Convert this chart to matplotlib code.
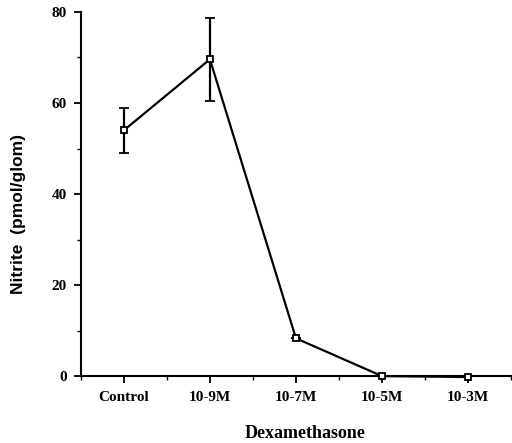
import matplotlib
matplotlib.use("Agg")
import matplotlib.pyplot as plt
from matplotlib.ticker import MultipleLocator

# data
categories = ["Control", "10-9M", "10-7M", "10-5M", "10-3M"]
nitrite = [54.0, 69.6, 8.3, 0.0, -0.2]
sem = [5.0, 9.1, 0.0, 0.0, 0.0]

plt.rcParams['font.family'] = ['Liberation Serif', 'DejaVu Serif']
plt.rcParams['font.weight'] = 'bold'

fig = plt.figure(figsize=(5.12, 4.43), dpi=100)
ax = fig.add_axes([0.158, 0.151, 0.84, 0.822])

x = list(range(len(categories)))
eb = ax.errorbar(x, nitrite, yerr=sem, color='black', lw=1.6, elinewidth=1.6,
                 capsize=3.5, capthick=1.6, marker='s', markersize=5,
                 markerfacecolor='white', markeredgecolor='black', markeredgewidth=1.3,
                 zorder=5)
eb[0].set_clip_on(False)

ax.set_xlim(-0.5, 4.5)
ax.set_ylim(0, 80)
ax.set_xticks(x)
ax.set_xticklabels(categories, fontsize=11, fontweight='bold')
ax.xaxis.set_minor_locator(MultipleLocator(0.5))
ax.yaxis.set_major_locator(MultipleLocator(20))
ax.yaxis.set_minor_locator(MultipleLocator(10))
ax.tick_params(axis='both', which='major', direction='out', length=5, width=1.3, labelsize=11)
ax.tick_params(axis='both', which='minor', direction='out', length=3, width=1.0)
ax.tick_params(axis='x', pad=6)
ax.tick_params(axis='y', pad=5)
for lbl in ax.get_yticklabels():
    lbl.set_fontweight('bold')

for s in ['top', 'right']:
    ax.spines[s].set_visible(False)
for s in ['left', 'bottom']:
    ax.spines[s].set_linewidth(1.5)

fig.text(0.036, 0.517, "Nitrite  (pmol/glom)", rotation=90, ha='center', va='center',
         fontsize=12.5, fontweight='bold', family=['Liberation Sans', 'DejaVu Sans'])
fig.text(0.595, 0.022, "Dexamethasone", ha='center', va='center',
         fontsize=13, fontweight='bold')

fig.savefig("out.png", dpi=100)
